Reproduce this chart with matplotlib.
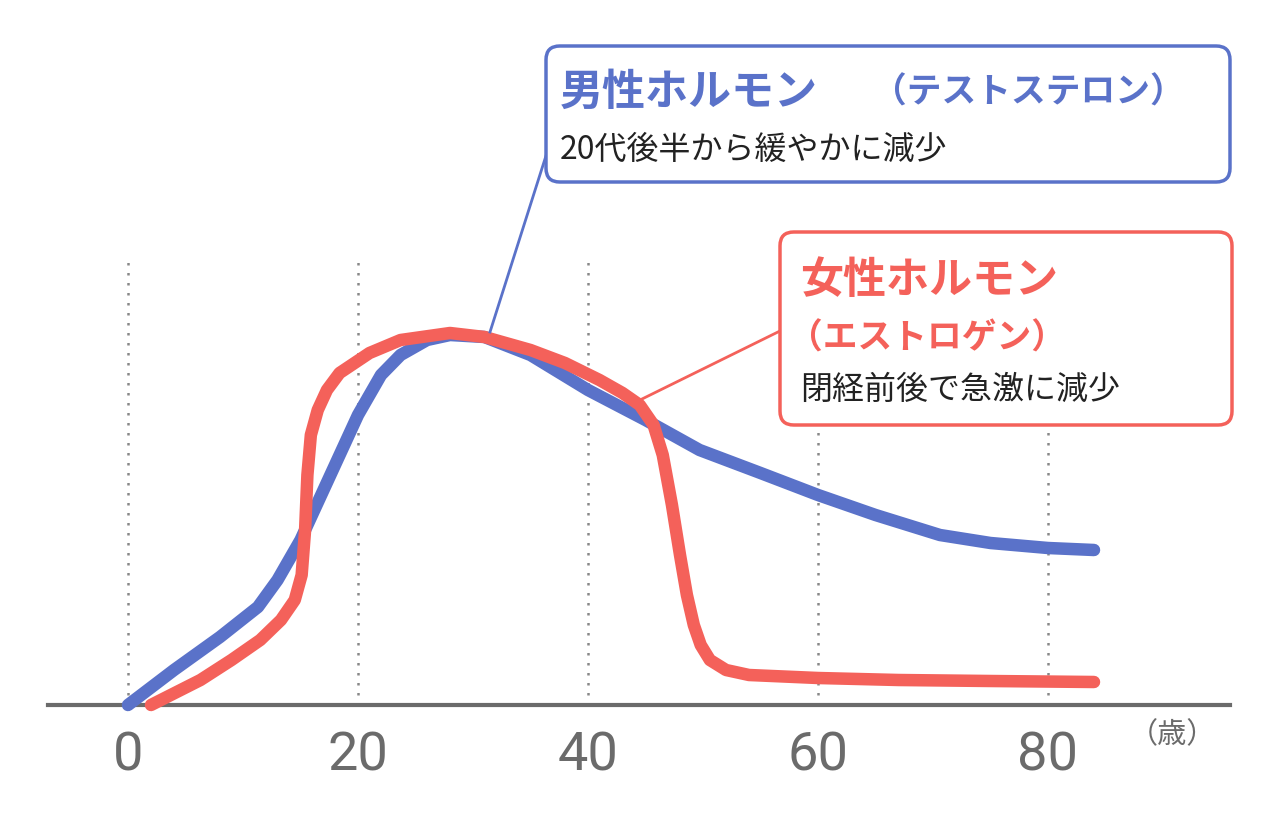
import matplotlib.pyplot as plt
from matplotlib.patches import FancyBboxPatch

plt.rcParams["font.family"] = "Noto Sans CJK JP"

BLUE = "#5a72c9"
RED = "#f4615a"
GRAY = "#6b6b6b"

# age (years) and relative hormone level (arbitrary units)
male_age = [0, 4, 8, 11.3, 13, 15, 17, 20, 22, 23.7, 26, 28, 31, 35, 40, 45, 49.7, 55, 60, 65, 70.6, 75, 80, 84]
male_level = [0, 35, 68, 98, 125, 165, 215, 290, 330, 350, 365, 370, 368, 350, 315, 285, 255, 232, 210, 190, 170, 162, 157, 155]

female_age = [2, 6.3, 9, 11.5, 13.3, 14.5, 15.1, 15.4, 15.6, 15.9, 16.5, 17.3, 18.4, 21, 23.7, 28, 31, 35, 38, 41, 43, 44.5, 45.7, 46.5, 47.3, 48.0, 48.6, 49.2, 49.8, 50.6, 52, 54, 60, 67, 75, 84]
female_level = [0, 25, 45, 65, 85, 105, 130, 175, 230, 270, 295, 315, 332, 352, 365, 372, 368, 355, 342, 325, 312, 300, 280, 250, 200, 150, 110, 80, 60, 45, 35, 30, 27, 25, 24, 23]

xticks = [0, 20, 40, 60, 80]

PX_X = 11.5  # pixels per year
X0 = 128
BASE = 705


def px(x, y):
    return (x - X0) / PX_X, BASE - y


fig = plt.figure(figsize=(12.8, 8.15), dpi=100)
ax = fig.add_axes([0, 0, 1, 1])
ax.set_xlim(-X0 / PX_X, (1280 - X0) / PX_X)
ax.set_ylim(BASE - 815, BASE)
ax.set_axis_off()

for t in xticks:
    ax.plot([t, t], [0, 450], linestyle=(0, (1, 3)), color="#888888", linewidth=1.8, zorder=1)
    ax.text(t, px(0, 756)[1], str(t), ha="center", va="center", fontsize=39,
            color=GRAY, family="Roboto", fontstretch="condensed")
ax.text(*px(1172, 735), "（歳）", ha="center", va="center", fontsize=21, color=GRAY)

ax.plot([px(48, 0)[0], px(1230, 0)[0]], [0, 0], color=GRAY, linewidth=3, zorder=2)

ax.plot(male_age, male_level, color=BLUE, linewidth=9, solid_capstyle="round",
        solid_joinstyle="round", zorder=3)
ax.plot(female_age, female_level, color=RED, linewidth=9, solid_capstyle="round",
        solid_joinstyle="round", zorder=4)

# connectors
ax.plot(*zip(px(490, 332), px(551, 140)), color=BLUE, linewidth=2, zorder=5)
ax.plot(*zip(px(640, 400), px(782, 330)), color=RED, linewidth=2, zorder=5)


def box(x0, y0, x1, y1, color):
    (a, b), (c, d) = px(x0, y1), px(x1, y0)
    ax.add_patch(FancyBboxPatch((a, b), c - a, d - b, boxstyle="round,pad=0,rounding_size=1.2",
                                mutation_aspect=11.5, facecolor="white", edgecolor=color,
                                linewidth=2.5, zorder=6))


box(546, 46, 1230, 182, BLUE)
ax.text(*px(560, 92), "男性ホルモン", ha="left", va="center", fontsize=31,
        fontweight="bold", color=BLUE, zorder=7)
ax.text(*px(872, 92), "（テストステロン）", ha="left", va="center", fontsize=25,
        fontweight="bold", color=BLUE, zorder=7)
ax.text(*px(560, 150), "20代後半から緩やかに減少", ha="left", va="center", fontsize=23,
        color="#222222", zorder=7)

box(780, 232, 1232, 425, RED)
ax.text(*px(800, 280), "女性ホルモン", ha="left", va="center", fontsize=31,
        fontweight="bold", color=RED, zorder=7)
ax.text(*px(788, 338), "（エストロゲン）", ha="left", va="center", fontsize=25,
        fontweight="bold", color=RED, zorder=7)
ax.text(*px(800, 390), "閉経前後で急激に減少", ha="left", va="center", fontsize=23,
        color="#222222", zorder=7)

fig.savefig("out.png", dpi=100, facecolor="white")
